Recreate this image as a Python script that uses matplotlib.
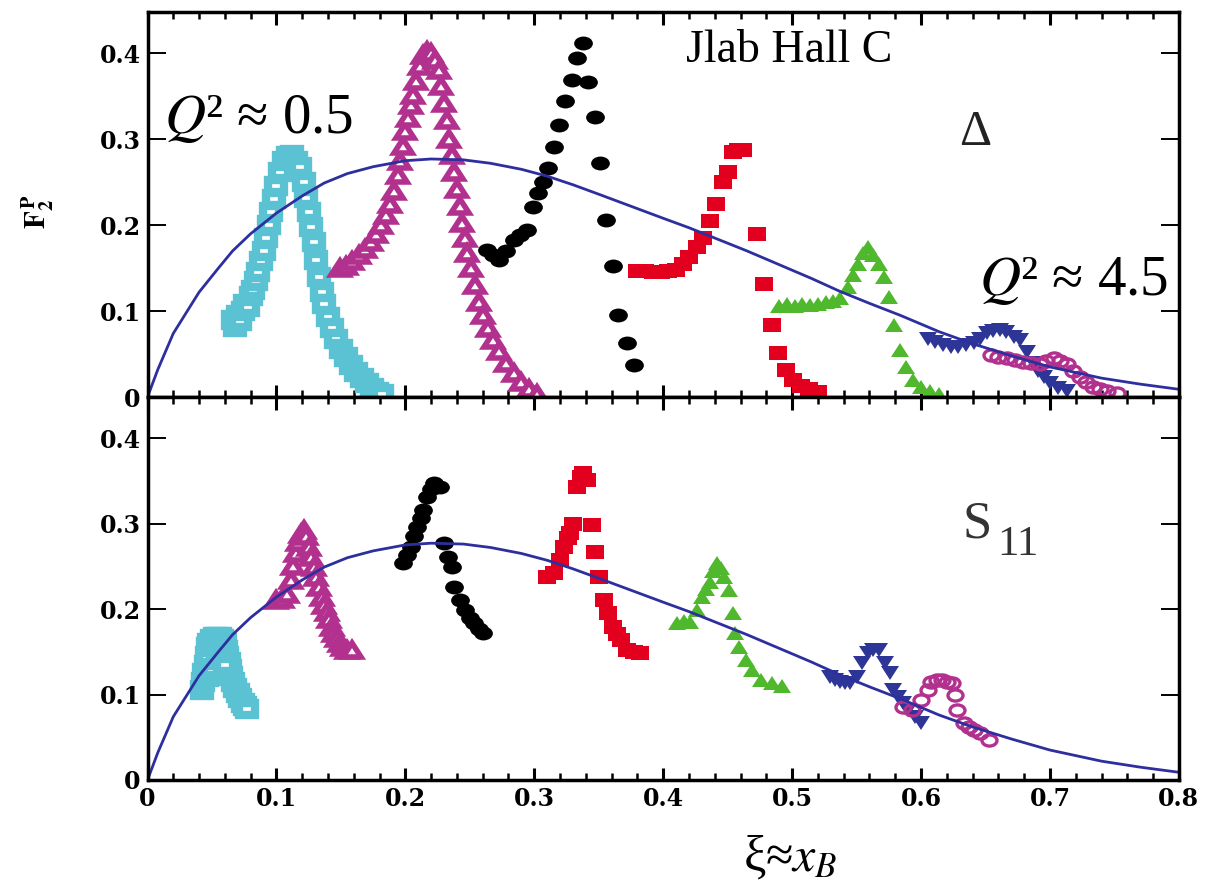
import numpy as np
import matplotlib
matplotlib.use("Agg")
import matplotlib.pyplot as plt
from matplotlib.markers import MarkerStyle
from matplotlib.transforms import Affine2D
from matplotlib.ticker import MultipleLocator

plt.rcParams["mathtext.fontset"] = "stix"
plt.rcParams["font.family"] = ["Liberation Serif", "DejaVu Serif"]

# 1. Data
x_ticks = [0, 0.1, 0.2, 0.3, 0.4, 0.5, 0.6, 0.7, 0.8]
x_tick_labels = ["0", "0.1", "0.2", "0.3", "0.4", "0.5", "0.6", "0.7", "0.8"]
y_ticks = [0, 0.1, 0.2, 0.3, 0.4]
y_tick_labels = ["0", "0.1", "0.2", "0.3", "0.4"]

# scaling curve (same in both panels)
curve_x = [0, 0.008, 0.02, 0.03, 0.04, 0.055, 0.066, 0.08, 0.1, 0.12, 0.137, 0.155,
           0.175, 0.2, 0.22, 0.245, 0.266, 0.29, 0.31, 0.33, 0.35, 0.375, 0.4, 0.42,
           0.44, 0.465, 0.49, 0.515, 0.537, 0.56, 0.584, 0.614, 0.64, 0.67, 0.7,
           0.74, 0.77, 0.8]
curve_y = [0, 0.032, 0.074, 0.098, 0.122, 0.150, 0.170, 0.190, 0.214, 0.234, 0.249, 0.260,
           0.268, 0.275, 0.277, 0.276, 0.272, 0.265, 0.257, 0.247, 0.236, 0.222, 0.208, 0.197,
           0.185, 0.170, 0.154, 0.138, 0.123, 0.109, 0.095, 0.076, 0.062, 0.048, 0.035,
           0.022, 0.015, 0.009]

# top panel (Delta region)
top_cyan_x = [0.066, 0.068, 0.070, 0.072, 0.074, 0.076, 0.078, 0.080, 0.082, 0.084, 0.086,
              0.088, 0.090, 0.092, 0.094, 0.096, 0.098, 0.100, 0.103, 0.106, 0.109, 0.112,
              0.115, 0.118, 0.121, 0.123, 0.125, 0.127, 0.129, 0.131, 0.133, 0.135, 0.137,
              0.140, 0.143, 0.146, 0.150, 0.154, 0.158, 0.162, 0.166, 0.170, 0.174, 0.178, 0.182]
top_cyan_y = [0.090, 0.082, 0.095, 0.088, 0.100, 0.108, 0.105, 0.118, 0.125, 0.135, 0.145,
              0.158, 0.170, 0.185, 0.200, 0.215, 0.230, 0.245, 0.262, 0.275, 0.280, 0.282,
              0.275, 0.268, 0.250, 0.232, 0.215, 0.198, 0.180, 0.160, 0.140, 0.122, 0.108,
              0.093, 0.080, 0.068, 0.056, 0.046, 0.037, 0.029, 0.022, 0.016, 0.011, 0.006, 0.003]

top_mag_x = [0.149, 0.154, 0.159, 0.164, 0.169, 0.173, 0.177, 0.181, 0.185, 0.188, 0.191,
             0.194, 0.196, 0.198, 0.200, 0.202, 0.204, 0.206, 0.208, 0.211, 0.214, 0.217,
             0.220, 0.223, 0.226, 0.228, 0.230, 0.232, 0.234, 0.236, 0.238, 0.240, 0.242,
             0.244, 0.246, 0.248, 0.251, 0.254, 0.257, 0.260, 0.264, 0.268, 0.273, 0.278,
             0.284, 0.290, 0.296, 0.302]
top_mag_y = [0.150, 0.152, 0.158, 0.165, 0.172, 0.180, 0.190, 0.200, 0.212, 0.225, 0.240,
             0.258, 0.275, 0.292, 0.310, 0.325, 0.340, 0.352, 0.368, 0.385, 0.398, 0.403,
             0.400, 0.392, 0.380, 0.362, 0.342, 0.322, 0.300, 0.282, 0.262, 0.242, 0.222,
             0.202, 0.185, 0.168, 0.150, 0.130, 0.110, 0.095, 0.080, 0.066, 0.053, 0.040,
             0.028, 0.018, 0.009, 0.003]

top_black_x = [0.263, 0.268, 0.273, 0.278, 0.284, 0.289, 0.294, 0.299, 0.303, 0.307, 0.311,
               0.315, 0.319, 0.324, 0.329, 0.333, 0.338, 0.342, 0.347, 0.351, 0.356, 0.361,
               0.365, 0.372, 0.377]
top_black_y = [0.171, 0.165, 0.159, 0.170, 0.183, 0.188, 0.194, 0.221, 0.237, 0.250, 0.267,
               0.291, 0.316, 0.345, 0.369, 0.394, 0.412, 0.366, 0.326, 0.272, 0.206, 0.153,
               0.095, 0.063, 0.037]

top_red_x = [0.380, 0.386, 0.392, 0.398, 0.404, 0.410, 0.415, 0.420, 0.426, 0.431, 0.436,
             0.441, 0.446, 0.450, 0.454, 0.458, 0.462, 0.473, 0.478, 0.484, 0.489, 0.495,
             0.501, 0.507, 0.513, 0.520]
top_red_y = [0.147, 0.147, 0.146, 0.146, 0.147, 0.148, 0.155, 0.163, 0.174, 0.185, 0.205,
             0.225, 0.250, 0.262, 0.285, 0.287, 0.287, 0.190, 0.132, 0.084, 0.051, 0.031,
             0.020, 0.013, 0.009, 0.006]

top_green_x = [0.490, 0.496, 0.502, 0.508, 0.514, 0.520, 0.526, 0.532, 0.537, 0.543, 0.547,
               0.551, 0.555, 0.559, 0.563, 0.567, 0.571, 0.575, 0.579, 0.584, 0.588, 0.594,
               0.600, 0.607, 0.614]
top_green_y = [0.106, 0.108, 0.106, 0.108, 0.107, 0.108, 0.110, 0.112, 0.115, 0.128, 0.142,
               0.155, 0.168, 0.175, 0.165, 0.155, 0.140, 0.116, 0.084, 0.055, 0.035, 0.020,
               0.012, 0.007, 0.004]

top_navy_x = [0.605, 0.611, 0.617, 0.623, 0.629, 0.635, 0.641, 0.646, 0.651, 0.656, 0.661,
              0.666, 0.672, 0.677, 0.682, 0.687, 0.691, 0.695, 0.700, 0.706, 0.713]
top_navy_y = [0.068, 0.064, 0.060, 0.058, 0.058, 0.060, 0.063, 0.068, 0.074, 0.077, 0.078,
              0.076, 0.070, 0.066, 0.052, 0.040, 0.030, 0.023, 0.016, 0.011, 0.007]

top_circ_x = [0.654, 0.660, 0.667, 0.673, 0.679, 0.685, 0.692, 0.697, 0.703, 0.708, 0.713,
              0.718, 0.723, 0.728, 0.733, 0.739, 0.744, 0.752]
top_circ_y = [0.049, 0.047, 0.045, 0.043, 0.041, 0.040, 0.039, 0.042, 0.045, 0.042, 0.039,
              0.030, 0.023, 0.017, 0.012, 0.009, 0.007, 0.005]

# bottom panel (S11 region)
bot_cyan_x = [0.042, 0.043, 0.044, 0.045, 0.046, 0.047, 0.048, 0.050, 0.052, 0.054, 0.056,
              0.058, 0.060, 0.061, 0.062, 0.063, 0.064, 0.065, 0.066, 0.068, 0.070, 0.072,
              0.074, 0.076, 0.077, 0.046, 0.050, 0.055, 0.060]
bot_cyan_y = [0.105, 0.115, 0.125, 0.135, 0.145, 0.155, 0.160, 0.165, 0.167, 0.167, 0.167,
              0.165, 0.160, 0.152, 0.145, 0.138, 0.130, 0.122, 0.115, 0.108, 0.102, 0.096,
              0.090, 0.086, 0.083, 0.120, 0.130, 0.140, 0.135]

bot_mag_x = [0.100, 0.104, 0.108, 0.111, 0.113, 0.115, 0.117, 0.119, 0.121, 0.123, 0.125,
             0.127, 0.129, 0.131, 0.133, 0.135, 0.137, 0.139, 0.141, 0.143, 0.145, 0.147,
             0.149, 0.152, 0.155, 0.159]
bot_mag_y = [0.210, 0.212, 0.218, 0.234, 0.250, 0.265, 0.278, 0.288, 0.292, 0.285, 0.273,
             0.261, 0.249, 0.238, 0.226, 0.214, 0.205, 0.196, 0.188, 0.179, 0.172, 0.166,
             0.160, 0.155, 0.152, 0.152]

bot_black_x = [0.198, 0.201, 0.204, 0.207, 0.209, 0.212, 0.214, 0.217, 0.220, 0.222, 0.227,
               0.230, 0.233, 0.236, 0.238, 0.242, 0.246, 0.250, 0.253, 0.257, 0.260]
bot_black_y = [0.254, 0.263, 0.273, 0.285, 0.296, 0.306, 0.316, 0.331, 0.340, 0.347, 0.343,
               0.277, 0.261, 0.249, 0.226, 0.211, 0.199, 0.190, 0.184, 0.177, 0.172]

bot_red_x = [0.310, 0.315, 0.320, 0.323, 0.326, 0.328, 0.330, 0.333, 0.336, 0.338, 0.341,
             0.345, 0.347, 0.350, 0.354, 0.357, 0.361, 0.364, 0.367, 0.372, 0.377, 0.382]
bot_red_y = [0.237, 0.242, 0.257, 0.273, 0.283, 0.289, 0.300, 0.343, 0.355, 0.359, 0.351,
             0.298, 0.267, 0.237, 0.211, 0.195, 0.179, 0.171, 0.164, 0.152, 0.150, 0.148]

bot_green_x = [0.411, 0.416, 0.421, 0.426, 0.430, 0.433, 0.436, 0.439, 0.442, 0.445, 0.447,
               0.451, 0.454, 0.456, 0.459, 0.464, 0.469, 0.476, 0.484, 0.492]
bot_green_y = [0.184, 0.186, 0.185, 0.199, 0.214, 0.223, 0.232, 0.245, 0.254, 0.248, 0.237,
               0.222, 0.195, 0.172, 0.156, 0.140, 0.129, 0.117, 0.113, 0.110]

bot_navy_x = [0.529, 0.533, 0.537, 0.541, 0.545, 0.550, 0.554, 0.559, 0.563, 0.567, 0.572,
              0.576, 0.578, 0.582, 0.586, 0.590, 0.595, 0.600]
bot_navy_y = [0.120, 0.117, 0.115, 0.114, 0.113, 0.120, 0.137, 0.148, 0.152, 0.152, 0.137,
              0.125, 0.105, 0.097, 0.090, 0.082, 0.074, 0.067]

bot_circ_x = [0.586, 0.593, 0.600, 0.605, 0.608, 0.612, 0.616, 0.620, 0.624, 0.626, 0.628,
              0.633, 0.637, 0.641, 0.646, 0.653]
bot_circ_y = [0.085, 0.082, 0.094, 0.105, 0.115, 0.117, 0.117, 0.115, 0.113, 0.099, 0.082,
              0.067, 0.062, 0.058, 0.055, 0.047]

# 2. Styles
CYAN = "#5bc2d4"
MAG = "#b2318f"
RED = "#e3001f"
GREEN = "#4fb82c"
NAVY = "#2d3596"
LINE = "#2e2f9e"


def wide(m):
    # markers in the original look stretched sideways
    return MarkerStyle(m, transform=Affine2D().scale(1.35, 1.0))


series_style = [
    dict(marker=wide("s"), ms=9, mfc="white", mec=CYAN, mew=6),
    dict(marker=wide("^"), ms=10, mfc="white", mec=MAG, mew=4),
    dict(marker=wide("o"), ms=10, mfc="black", mec="black", mew=0),
    dict(marker=wide("s"), ms=10, mfc=RED, mec=RED, mew=0),
    dict(marker=wide("^"), ms=10, mfc=GREEN, mec=GREEN, mew=0),
    dict(marker=wide("v"), ms=10, mfc=NAVY, mec=NAVY, mew=0),
    dict(marker=wide("o"), ms=8, mfc="none", mec=MAG, mew=2.4),
]

top_series = [(top_cyan_x, top_cyan_y), (top_mag_x, top_mag_y), (top_black_x, top_black_y),
              (top_red_x, top_red_y), (top_green_x, top_green_y), (top_navy_x, top_navy_y),
              (top_circ_x, top_circ_y)]
bot_series = [(bot_cyan_x, bot_cyan_y), (bot_mag_x, bot_mag_y), (bot_black_x, bot_black_y),
              (bot_red_x, bot_red_y), (bot_green_x, bot_green_y), (bot_navy_x, bot_navy_y),
              (bot_circ_x, bot_circ_y)]

# 3. Figure
fig = plt.figure(figsize=(12.12, 8.91), dpi=100)
ax1 = fig.add_axes([0.1217, 0.5544, 0.851, 0.4321])
ax2 = fig.add_axes([0.1217, 0.1246, 0.851, 0.4298])

tick_font = dict(family="DejaVu Serif", weight="heavy", size=17)

for ax, series in [(ax1, top_series), (ax2, bot_series)]:
    for (xs, ys), st in zip(series, series_style):
        ax.plot(xs, ys, linestyle="none", **st)
    ax.plot(curve_x, curve_y, color=LINE, lw=2.0)

    ax.set_xlim(0, 0.8)
    ax.set_ylim(0, 0.448)
    ax.set_xticks(x_ticks)
    ax.set_xticklabels(x_tick_labels, fontdict=tick_font)
    ax.set_yticks(y_ticks)
    ax.set_yticklabels(y_tick_labels, fontdict=tick_font)
    ax.xaxis.set_minor_locator(MultipleLocator(0.02))
    ax.tick_params(axis="x", which="major", direction="in", top=True, bottom=True,
                   length=9, width=2.2, pad=5)
    ax.tick_params(axis="x", which="minor", direction="in", top=True, bottom=True,
                   length=5, width=1.8)
    ax.tick_params(axis="y", which="major", direction="in", left=True, right=True,
                   length=13, width=1.4, pad=5)
    for sp in ax.spines.values():
        sp.set_linewidth(2.5)

ax1.tick_params(axis="x", labelbottom=False)

# 4. Annotations
ax1.text(0.498, 0.403, "Jlab Hall C", fontsize=33, ha="center", va="center")
ax1.text(0.013, 0.307, r"$Q$² ≈ 0.5", fontsize=41, ha="left", va="baseline")
ax1.text(0.792, 0.119, r"$Q$² ≈ 4.5", fontsize=41, ha="right", va="baseline")
ax1.text(0.642, 0.307, "Δ", fontsize=36, ha="center", va="center", color="#222222")
ax2.text(0.632, 0.284, "S", fontsize=38, ha="left", va="baseline", color="#333333")
ax2.text(0.659, 0.263, "11", fontsize=31, ha="left", va="baseline", color="#333333")

fig.text(38 / 1212, 1 - 212 / 891, r"$\mathbf{F}_{\mathbf{2}}^{\,\mathbf{P}}$",
         rotation=90, fontsize=21, ha="center", va="center")
fig.text(790 / 1212, 1 - 858 / 891, r"ξ≈$x_B$", fontsize=36,
         ha="center", va="center")

plt.savefig("out.png", dpi=100)
